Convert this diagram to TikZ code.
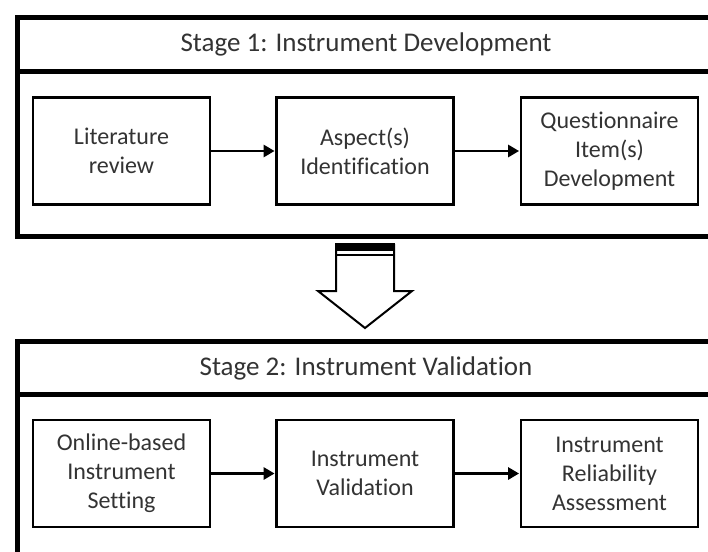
\documentclass[tikz,border=0pt]{standalone}
\usepackage{fontspec}
\setmainfont[Ligatures={NoCommon}]{Carlito}
\usetikzlibrary{arrows.meta}
\definecolor{txt}{gray}{0.2}
\begin{document}
\begin{tikzpicture}[x=1pt,y=-1pt,
  framebox/.style={draw=black, line width=5pt, inner sep=0pt, anchor=north west,
    font=\fontsize{27}{32}\selectfont, text=txt},
  stepbox/.style={draw=black, line width=2.8pt, minimum width=177pt, minimum height=107pt,
    inner sep=0pt, align=center, font=\fontsize{24}{29}\selectfont, text=txt},
  conn/.style={line width=2.8pt, -{Triangle[length=11pt,width=12pt]}, shorten >=0.5pt}
]
\useasboundingbox (0,0) rectangle (708,551);
\clip (0,0) rectangle (708,551);
\fill[white] (0,0) rectangle (708,551);

% Stage 1 frame
\node[framebox, minimum width=698pt, minimum height=54pt] (h1) at (14.5,15) {Stage 1: Instrument Development};
\node[framebox, minimum width=698pt, minimum height=164.5pt] (b1) at (14.5,69) {};

% Stage 2 frame
\node[framebox, minimum width=698pt, minimum height=53pt] (h2) at (14.5,339) {Stage 2: Instrument Validation};
\node[framebox, minimum width=698pt, minimum height=250pt] (b2) at (14.5,392) {};

% Stage 1 boxes
\node[stepbox] (a1) at (121.5,151) {Literature\\review};
\node[stepbox] (a2) at (365,151) {Aspect(s)\\Identification};
\node[stepbox] (a3) at (609.5,151) {Questionnaire\\Item(s)\\Development};

% Stage 2 boxes
\node[stepbox] (c1) at (121.5,473.5) {Online-based\\Instrument\\Setting};
\node[stepbox] (c2) at (365,473.5) {Instrument\\Validation};
\node[stepbox] (c3) at (609.5,473.5) {Instrument\\Reliability\\Assessment};

\draw[conn] (a1) -- (a2);
\draw[conn] (a2) -- (a3);
\draw[conn] (c1) -- (c2);
\draw[conn] (c2) -- (c3);

% Block arrow between stages
\draw[line width=2pt, fill=white, line join=miter]
  (336,245) -- (394,245) -- (394,291) -- (412,291) -- (365,328)
  -- (318,291) -- (336,291) -- cycle;
\fill[black] (335,243) rectangle (395,250.5);
\draw[line width=2.5pt] (335,255) -- (395,255);
\end{tikzpicture}
\end{document}
